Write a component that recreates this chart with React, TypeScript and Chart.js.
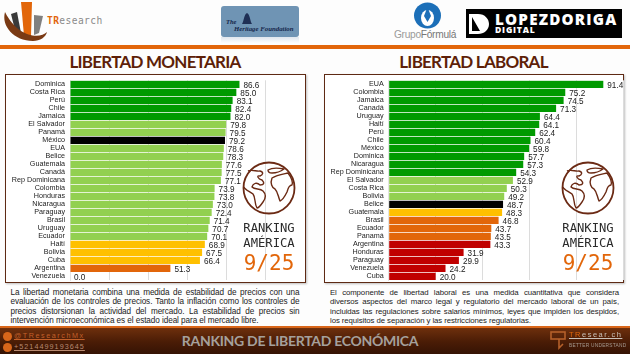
import React, { useEffect, useRef } from "react";
import { Chart, registerables } from "chart.js";

Chart.register(...registerables);

const DG = "#009a00";
const LG = "#92d050";
const YL = "#ffc000";
const OR = "#e2660a";
const RD = "#c00000";
const BK = "#000000";

const monetaryCategories = ["Dominica", "Costa Rica", "Perú", "Chile", "Jamaica", "El Salvador", "Panamá", "México", "EUA", "Belice", "Guatemala", "Canadá", "Rep Dominicana", "Colombia", "Honduras", "Nicaragua", "Paraguay", "Brasil", "Uruguay", "Ecuador", "Haití", "Bolivia", "Cuba", "Argentina", "Venezuela"];
const monetaryValues = [86.6, 85.0, 83.1, 82.4, 82.0, 79.8, 79.5, 79.2, 78.6, 78.3, 77.6, 77.5, 77.1, 73.9, 73.8, 73.0, 72.4, 71.4, 70.7, 70.1, 68.9, 67.5, 66.4, 51.3, 0.0];
const monetaryColors = [DG, DG, DG, DG, DG, LG, LG, BK, LG, LG, LG, LG, LG, LG, LG, LG, LG, LG, LG, LG, YL, YL, YL, OR, OR];

const laborCategories = ["EUA", "Colombia", "Jamaica", "Canadá", "Uruguay", "Haití", "Perú", "Chile", "México", "Dominica", "Nicaragua", "Rep Dominicana", "El Salvador", "Costa Rica", "Bolivia", "Belice", "Guatemala", "Brasil", "Ecuador", "Panamá", "Argentina", "Honduras", "Paraguay", "Venezuela", "Cuba"];
const laborValues = [91.4, 75.2, 74.5, 71.3, 64.4, 64.1, 62.4, 60.4, 59.8, 57.7, 57.3, 54.3, 52.9, 50.3, 49.2, 48.7, 48.3, 46.8, 43.7, 43.5, 43.3, 31.9, 29.9, 24.2, 20.0];
const laborColors = [DG, DG, DG, DG, DG, DG, DG, DG, DG, DG, DG, DG, LG, LG, LG, BK, YL, OR, OR, OR, RD, RD, RD, RD, RD];

const monetaryText = [
  "La libertad monetaria combina una medida de estabilidad de precios con una",
  "evaluación de los controles de precios. Tanto la inflación como los controles de",
  "precios distorsionan la actividad del mercado. La estabilidad de precios sin",
  "intervención microeconómica es el estado ideal para el mercado libre.",
];
const laborText = [
  "El componente de libertad laboral es una medida cuantitativa que considera",
  "diversos aspectos del marco legal y regulatorio del mercado laboral de un país,",
  "incluidas las regulaciones sobre salarios mínimos, leyes que impiden los despidos,",
  "los requisitos de separación y las restricciones regulatorias.",
];

const SANS = "'Liberation Sans', Arial, sans-serif";
const TITLE = "Lato, 'Open Sans', sans-serif";
const MONO = "'DejaVu Sans Mono', monospace";
const BROWN = "#5e1f08";

const valueLabels = {
  id: "valueLabels",
  afterDatasetsDraw(chart: any) {
    const { ctx } = chart;
    const ds = chart.data.datasets[0];
    const meta = chart.getDatasetMeta(0);
    ctx.save();
    ctx.font = "8.2px 'Liberation Sans', Arial, sans-serif";
    ctx.fillStyle = "#1a1a1a";
    ctx.textBaseline = "middle";
    ctx.textAlign = "left";
    meta.data.forEach((bar: any, i: number) => {
      ctx.fillText(ds.data[i].toFixed(1), bar.x + 4, bar.y + 1);
    });
    ctx.restore();
  },
};

function BarChart(props: { categories: string[]; values: number[]; colors: string[]; left: number; width: number; axisWidth: number; padRight: number }) {
  const ref = useRef<HTMLCanvasElement | null>(null);
  useEffect(() => {
    const chart = new Chart(ref.current as HTMLCanvasElement, {
      type: "bar",
      data: {
        labels: props.categories,
        datasets: [{ data: props.values, backgroundColor: props.colors, categoryPercentage: 1, barPercentage: 0.9 }],
      },
      options: {
        indexAxis: "y",
        animation: false,
        responsive: false,
        layout: { padding: { top: 5.3, bottom: 2.7, left: 0, right: props.padRight } },
        plugins: { legend: { display: false }, tooltip: { enabled: false } },
        scales: {
          x: {
            min: 0,
            max: 100,
            ticks: { display: false, stepSize: 20 },
            grid: { color: "#dcdcdc", drawTicks: false, tickLength: 0, lineWidth: 1 },
            border: { display: false },
          },
          y: {
            afterFit(s: any) {
              s.width = props.axisWidth;
              s.paddingTop = 0;
              s.paddingBottom = 0;
            },
            ticks: { autoSkip: false, color: "#222", padding: 5, font: { family: SANS, size: 7.2 } },
            grid: { display: false, drawTicks: false, tickLength: 0 },
            border: { color: "#e4e4e4" },
          },
        },
      },
      plugins: [valueLabels],
    } as any);
    return () => chart.destroy();
  }, []);
  return <canvas ref={ref} width={props.width} height={208} style={{ position: "absolute", left: props.left, top: 75, width: props.width, height: 208 }} />;
}

function Globe({ x }: { x: number }) {
  return (
    <svg style={{ position: "absolute", left: x - 27, top: 161, width: 54, height: 54 }} viewBox="0 0 54 54" fill="none" stroke="#6b2a14" strokeWidth="1.4" strokeLinejoin="round">
      <circle cx="27" cy="27" r="25.5" strokeWidth="1.8" />
      <path d="M6 10 C10 8 15 11 18 10 C22 11 21 14 18 15 C14 14 16 18 20 19 C23 22 22 24 18 24 C15 21 11 22 10 26 C13 29 18 27 21 30 C24 33 24 37 21 41 C19 44 17 47 15 47 C12 42 14 37 11 33 C7 30 3 29 2 26" />
      <path d="M26 9 C31 6 37 7 42 8 C38 11 33 12 30 12 C28 12 26 11 26 9 Z" />
      <path d="M30 17 C35 14 42 13 46 12 C50 17 51 22 50 24 C47 24 46 27 45 31 C43 35 41 39 38 40 C36 35 36 31 33 28 C30 27 28 22 30 17 Z" />
    </svg>
  );
}

function RankingBlock({ x }: { x: number }) {
  const base = { position: "absolute", left: x - 45, width: 90, textAlign: "center", fontFamily: MONO, whiteSpace: "nowrap" } as React.CSSProperties;
  return (
    <>
      <Globe x={x} />
      <div style={{ ...base, top: 221, fontSize: 12.2, lineHeight: "15px", color: "#2a2a2a" }}>RANKING</div>
      <div style={{ ...base, top: 236, fontSize: 12.2, lineHeight: "15px", color: "#2a2a2a" }}>AMÉRICA</div>
      <div style={{ ...base, top: 250, fontSize: 21, lineHeight: "26px", color: "#e2660a" }}>9/25</div>
    </>
  );
}

function Paragraph({ lines, left, width, size }: { lines: string[]; left: number; width: number; size: number }) {
  return (
    <div style={{ position: "absolute", left, top: 287.5, width, fontFamily: SANS, fontSize: size, letterSpacing: -0.08, lineHeight: "9.5px", color: "#222" }}>
      {lines.map((line, i) => (
        <div key={i} style={{ textAlign: "justify", textAlignLast: i < lines.length - 1 ? "justify" : "left" }}>
          {line}
        </div>
      ))}
    </div>
  );
}

function Panel({ left, width }: { left: number; width: number }) {
  return <div style={{ position: "absolute", left, top: 74, width, height: 209, boxSizing: "border-box", border: "1.5px solid #5e2a14", background: "#ffffff", boxShadow: "1px 1px 2px rgba(0,0,0,0.25)" }} />;
}

function Title({ text, left, width }: { text: string; left: number; width: number }) {
  return <div style={{ position: "absolute", left, width, top: 50, textAlign: "center", fontFamily: TITLE, fontWeight: 700, fontSize: 17, letterSpacing: -0.75, lineHeight: "24px", color: BROWN, whiteSpace: "nowrap" }}>{text}</div>;
}

function Logos() {
  return (
    <>
      <svg style={{ position: "absolute", left: 0, top: 0, width: 60, height: 44 }} viewBox="0 0 60 44">
        <polygon points="11,14 17,12 21,33 15,30" fill="#3a3a3a" />
        <polygon points="21,2 32,2 31,36 24,36" fill="#e2660a" />
        <polygon points="34,15 43,16 39,33 34,35" fill="#808080" />
        <path d="M5 12 C1 26 14 41 33 41 C40 41 46 37 47 32 C40 39 18 38 5 12 Z" fill="#7a3a14" />
      </svg>
      <div style={{ position: "absolute", left: 47, top: 14, fontFamily: MONO, fontSize: 9.6, lineHeight: "14px", letterSpacing: 0.4, color: "#8a8a8a" }}>
        <span style={{ color: "#e2660a", fontWeight: 700 }}>TR</span>esearch
      </div>
      <div style={{ position: "absolute", left: 221, top: 6, width: 78, height: 31, borderRadius: 3, background: "#6f94b4" }} />
      <div style={{ position: "absolute", left: 221, top: 37, width: 78, height: 6, background: "linear-gradient(#dfe6ee,#fdfdfd)" }} />
      <svg style={{ position: "absolute", left: 241, top: 12, width: 12, height: 14 }} viewBox="0 0 12 14">
        <path d="M1 12 C3 9 3 2 6 1 C9 2 9 9 11 12 Z" fill="#1f2f55" />
      </svg>
      <div style={{ position: "absolute", left: 226, top: 18, fontFamily: "'Liberation Serif', serif", fontStyle: "italic", fontWeight: 700, fontSize: 6.5, lineHeight: "7px", color: "#14254a" }}>The</div>
      <div style={{ position: "absolute", left: 234, top: 25, fontFamily: "'Liberation Serif', serif", fontStyle: "italic", fontWeight: 700, fontSize: 6.8, lineHeight: "8px", color: "#14254a", whiteSpace: "nowrap" }}>Heritage Foundation</div>

      <svg style={{ position: "absolute", left: 413, top: 2, width: 29, height: 27 }} viewBox="0 0 29 27">
        <ellipse cx="14.5" cy="13.5" rx="13.5" ry="13" fill="#1c6fb8" />
        <ellipse cx="14.5" cy="16" rx="6.5" ry="8" fill="#ffffff" />
        <path d="M14.5 5 L18 14 L14.5 20 L11 14 Z" fill="#1c6fb8" />
      </svg>
      <div style={{ position: "absolute", left: 394, top: 28, fontFamily: SANS, fontSize: 10.2, lineHeight: "14px", color: "#9a9a9a", whiteSpace: "nowrap", letterSpacing: -0.3 }}>
        Grupo<span style={{ color: "#777" }}>Fórmulá</span>
      </div>

      <div style={{ position: "absolute", left: 466, top: 9, width: 156, height: 29, background: "#000" }} />
      <svg style={{ position: "absolute", left: 468, top: 13, width: 22, height: 22 }} viewBox="0 0 22 22">
        <path d="M1 1 H10 C17 1 21 6 21 11 C21 17 16 21 10 21 H1 Z M4 4 V18 H12 Z" fill="#fff" fillRule="evenodd" />
      </svg>
      <div style={{ position: "absolute", left: 495, top: 10, fontFamily: "'Open Sans', sans-serif", fontWeight: 800, fontSize: 15.2, lineHeight: "18px", letterSpacing: 1.2, color: "#fff", whiteSpace: "nowrap" }}>LOPEZDORIGA</div>
      <div style={{ position: "absolute", left: 495, top: 25, fontFamily: "'Open Sans', sans-serif", fontWeight: 800, fontSize: 8.6, lineHeight: "11px", letterSpacing: 0.8, color: "#fff", whiteSpace: "nowrap" }}>DIGITAL</div>
    </>
  );
}

function Footer() {
  const small = { position: "absolute", fontFamily: SANS, whiteSpace: "nowrap" } as React.CSSProperties;
  return (
    <div style={{ position: "absolute", left: 0, top: 326, width: 630, height: 28, background: "linear-gradient(#8a3f10 0px,#6b2e0c 3px,#4a1c06 16px,#351304 28px)" }}>
      <div style={{ position: "absolute", left: 0, top: 0, width: 630, height: 1.5, background: "#d9661a" }} />
      <div style={{ position: "absolute", left: 3, top: 6, width: 9, height: 9, borderRadius: 5, background: "#d9661a" }} />
      <div style={{ position: "absolute", left: 3, top: 17, width: 9, height: 9, borderRadius: 5, background: "#d9661a" }} />
      <div style={{ ...small, left: 14, top: 4, fontSize: 7.2, lineHeight: "11px", letterSpacing: 1.55, color: "#c2602a", textDecoration: "underline" }}>@TResearchMx</div>
      <div style={{ ...small, left: 14, top: 15, fontSize: 7.2, lineHeight: "11px", letterSpacing: 1.05, color: "#b98a70", textDecoration: "underline" }}>+5214499193645</div>
      <div style={{ ...small, left: 0, width: 600, top: 5, textAlign: "center", fontFamily: TITLE, fontWeight: 700, fontSize: 14, letterSpacing: -0.3, lineHeight: "20px", color: "#a5a09c" }}>RANKING DE LIBERTAD ECONÓMICA</div>
      <svg style={{ position: "absolute", left: 550, top: 4, width: 18, height: 20 }} viewBox="0 0 18 20" fill="none" stroke="#b5602a" strokeWidth="1.6">
        <rect x="1" y="2" width="14" height="7" />
        <path d="M9 9 L9 18 L13 14" />
      </svg>
      <div style={{ ...small, left: 569, top: 3, fontSize: 7.5, lineHeight: "11px", letterSpacing: 1.5, color: "#c9c0b8", textDecoration: "underline" }}>
        <span style={{ color: "#e2660a" }}>TR</span>esear.ch
      </div>
      <div style={{ ...small, left: 569, top: 15, fontSize: 4.8, lineHeight: "9px", letterSpacing: 0.25, color: "#a59a90" }}>BETTER UNDERSTAND</div>
    </div>
  );
}

export default function App() {
  useEffect(() => {
    document.body.style.margin = "0";
  }, []);
  return (
    <div style={{ position: "absolute", left: 0, top: 0, width: 630, height: 354, overflow: "hidden", background: "#fdfdfd" }}>
      <Logos />
      <div style={{ position: "absolute", left: 0, top: 45, width: 630, height: 3.5, background: "#e2660a" }} />
      <Title text="LIBERTAD MONETARIA" left={5} width={300} />
      <Title text="LIBERTAD LABORAL" left={324} width={299} />
      <Panel left={5} width={301} />
      <Panel left={324} width={300} />
      <BarChart categories={monetaryCategories} values={monetaryValues} colors={monetaryColors} left={6} width={299} axisWidth={64} padRight={39.3} />
      <BarChart categories={laborCategories} values={laborValues} colors={laborColors} left={325} width={305} axisWidth={63.7} padRight={6.5} />
      <RankingBlock x={269} />
      <RankingBlock x={588} />
      <Paragraph lines={monetaryText} left={10.5} width={289} size={8.2} />
      <Paragraph lines={laborText} left={330} width={289} size={7.8} />
      <Footer />
    </div>
  );
}
